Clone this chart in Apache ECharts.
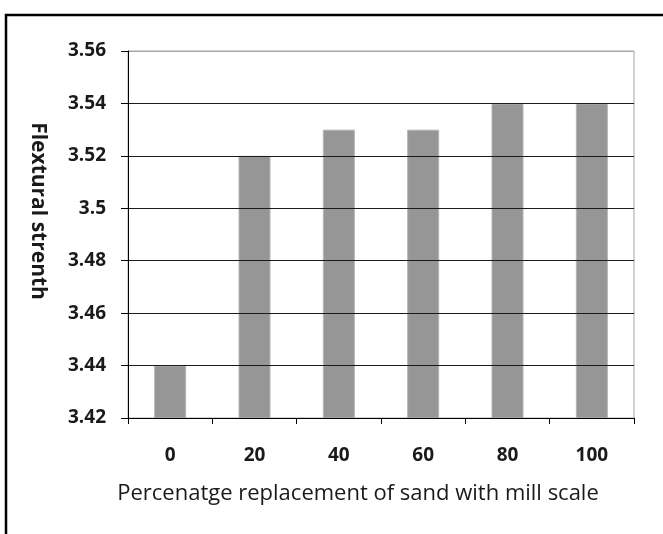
<!DOCTYPE html>
<html>
<head>
<meta charset="utf-8">
<script src="https://cdn.jsdelivr.net/npm/echarts@6/dist/echarts.min.js"></script>
<style>
  html, body { margin: 0; padding: 0; background: #fff; }
  #chart { width: 663px; height: 534px; }
</style>
</head>
<body>
<div id="chart"></div>
<script>
// Replacement percentages (x categories)
const categories = ['0', '20', '40', '60', '80', '100'];
// Flexural strength per replacement level
const strength = [3.44, 3.52, 3.53, 3.53, 3.54, 3.54];
// Value axis range and step
const yMin = 3.42;
const yMax = 3.56;
const yStep = 0.02;

const xTitle = 'Percenatge replacement of sand with mill scale';
const yTitle = 'Flextural strenth';

const FONT = '"Open Sans", "Noto Sans", sans-serif';
const TEXT = '#1a1a1a';

const chart = echarts.init(document.getElementById('chart'), null, { renderer: 'canvas' });

// split line colours: dark rules, lighter top edge
const tickCount = Math.round((yMax - yMin) / yStep) + 1;
const splitColors = [];
for (let i = 0; i < tickCount; i++) splitColors.push(i === tickCount - 1 ? '#a6a6a6' : '#1a1a1a');

chart.setOption({
  animation: false,
  backgroundColor: '#fff',
  grid: {
    left: 128, right: 29, top: 51, bottom: 116,
    show: true, borderColor: '#a6a6a6', borderWidth: 1, backgroundColor: 'transparent'
  },
  xAxis: {
    type: 'category',
    data: categories,
    z: 3,
    boundaryGap: true,
    axisLine: { lineStyle: { color: '#000', width: 1 } },
    axisTick: { show: true, alignWithLabel: false, length: 6, lineStyle: { color: '#000' } },
    axisLabel: { margin: 28, fontFamily: FONT, fontWeight: 'bold', fontSize: 19, color: TEXT }
  },
  yAxis: {
    type: 'value',
    min: yMin, max: yMax, interval: yStep,
    z: 3,
    axisLine: { show: true, lineStyle: { color: '#000', width: 1 } },
    axisTick: { show: true, length: 7, lineStyle: { color: '#000' } },
    splitLine: { show: true, lineStyle: { color: splitColors, width: 1 } },
    axisLabel: {
      margin: 22, fontFamily: FONT, fontWeight: 'bold', fontSize: 19, color: TEXT,
      formatter: v => String(+v.toFixed(2))
    }
  },
  series: [{
    type: 'bar',
    data: strength,
    barWidth: 32,
    itemStyle: { color: '#969696', borderColor: '#b4b4b4', borderWidth: 1 }
  }],
  graphic: [
    {
      type: 'polyline',
      shape: { points: [[6, 534], [6, 15], [663, 15]] },
      style: { stroke: '#000', lineWidth: 2.5, fill: null },
      silent: true
    },
    {
      type: 'text',
      x: 358, y: 494,
      style: {
        text: xTitle, fontFamily: FONT, fontSize: 22, fill: TEXT,
        textAlign: 'center', textVerticalAlign: 'middle'
      }
    },
    {
      type: 'text',
      x: 38, y: 211,
      rotation: -Math.PI / 2,
      style: {
        text: yTitle, fontFamily: FONT, fontSize: 21, fontWeight: 'bold', fill: TEXT,
        textAlign: 'center', textVerticalAlign: 'middle'
      }
    }
  ]
});
</script>
</body>
</html>
